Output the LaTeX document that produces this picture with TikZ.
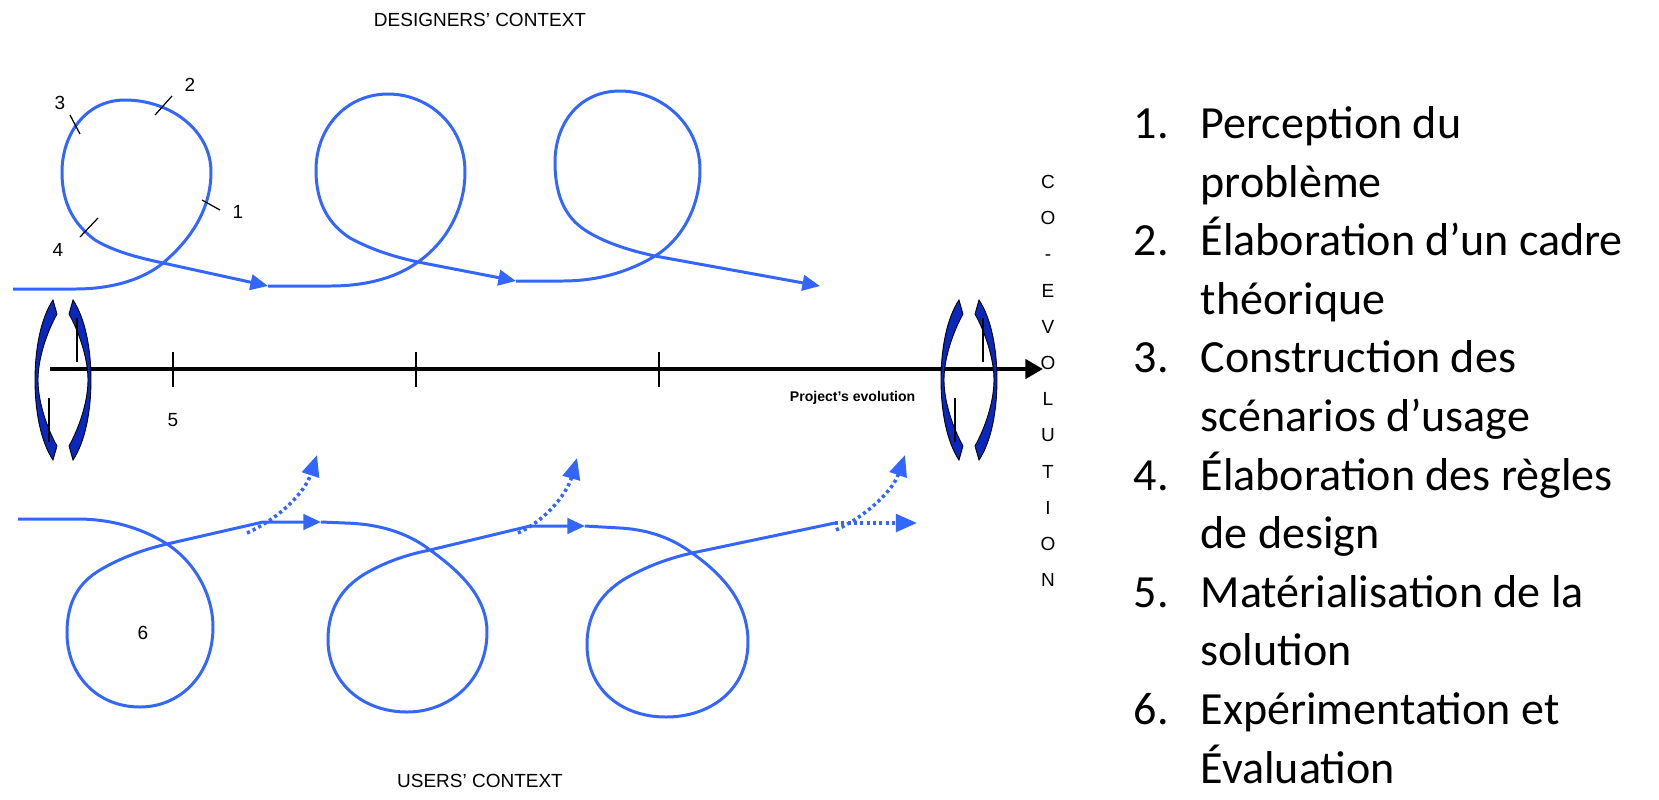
\documentclass[tikz,border=0pt]{standalone}
\usepackage{fontspec}
\setmainfont{Liberation Sans}
\newfontfamily\listfont{Carlito}
\usetikzlibrary{arrows.meta}
\definecolor{loopblue}{RGB}{51,102,255}
\definecolor{curlblue}{RGB}{10,40,190}
\tikzset{
  loopline/.style={draw=loopblue, line width=0.85pt},
  dotline/.style={draw=loopblue, line width=1pt, dash pattern=on 0.9pt off 0.9pt},
  looptip/.style={-{Triangle[length=5pt,width=4.4pt]}},
  dottip/.style={-{Triangle[length=6pt,width=5pt]}},
  axisline/.style={line width=1.2pt, -{Triangle[length=5pt,width=5.4pt]}},
  tickmark/.style={black, line width=0.35pt},
  curl/.style={fill=curlblue, draw=black, line width=0.25pt},
  lbl/.style={font=\fontsize{5.4}{6.5}\selectfont, inner sep=0pt},
  item/.style={font=\listfont\fontsize{13.1}{16}\selectfont, anchor=base west, inner sep=0pt},
}
\begin{document}
\begin{tikzpicture}[x=0.01cm,y=-0.01cm]
\fill[white] (0,0) rectangle (1659,799);
\useasboundingbox (0,0) rectangle (1659,799);
\node[lbl] (designers) at (480,20) {DESIGNERS’ CONTEXT};
\node[lbl] (users) at (480,781) {USERS’ CONTEXT};
% axis
\draw[axisline] (50,369) -- (1043,369);
\foreach \tx in {173,416,659} \draw[tickmark] (\tx,352) -- (\tx,387);
\node[lbl] (lab5) at (173,420) {5};
\node[lbl,font=\fontsize{4.0}{4.8}\selectfont\bfseries,anchor=east] (evol) at (916,398) {Project’s evolution};
\node[lbl,align=center,font=\fontsize{5.4}{10.3}\selectfont] (coevo) at (1048,381) {C\\O\\-\\E\\V\\O\\L\\U\\T\\I\\O\\N};
% curly arrows
\foreach \cx in {63,969}{
\begin{scope}[shift={(\cx,380)}]
\foreach \r in {0,180}{
\begin{scope}[rotate=\r]
\filldraw[curl] (-10,-80) .. controls (-22,-62) and (-28,-32) .. (-28,0) .. controls (-28,32) and (-22,62) .. (-10,80) -- (-6,66) .. controls (-16,48) and (-25,22) .. (-25,0) .. controls (-25,-22) and (-16,-48) .. (-6,-66) -- cycle;
\draw[tickmark] (-14,18) -- (-14,62);
\end{scope}}
\end{scope}}
% designers' loops
\coordinate (ja) at (268,286); \coordinate (jb) at (516,281); \coordinate (jc) at (820,286);
\draw[loopline,looptip] (13,289) -- (75,289) .. controls (115,289) and (145,278) .. (163,263) .. controls (195,236) and (211,205) .. (211,172) .. controls (211,130) and (170,100) .. (125,100) .. controls (85,100) and (62,135) .. (62,172) .. controls (62,205) and (75,225) .. (95,240) .. controls (115,252) and (140,258) .. (163,263) -- (ja);
\draw[loopline,looptip] (ja) -- (330,286) .. controls (372,286) and (400,275) .. (418,262) .. controls (448,241) and (465,207) .. (465,172) .. controls (465,125) and (428,94) .. (388,94) .. controls (346,94) and (316,128) .. (316,170) .. controls (316,205) and (330,225) .. (350,238) .. controls (372,250) and (395,257) .. (418,262) -- (jb);
\draw[loopline,looptip] (jb) -- (562,281) .. controls (605,281) and (635,268) .. (655,256) .. controls (683,239) and (700,205) .. (700,170) .. controls (700,123) and (660,91) .. (620,91) .. controls (578,91) and (555,125) .. (555,162) .. controls (555,200) and (568,220) .. (588,232) .. controls (608,244) and (632,251) .. (655,256) -- (jc);
\draw[tickmark] (70,115) -- (80,134); \node[lbl] (k3) at (60,103) {3};
\draw[tickmark] (155,115) -- (172,96); \node[lbl] (k2) at (190,85) {2};
\draw[tickmark] (202,200) -- (220,210); \node[lbl] (k1) at (238,212) {1};
\draw[tickmark] (80,237) -- (98,218); \node[lbl] (k4) at (58,250) {4};
% users' loops
\coordinate (ua) at (321,522); \coordinate (ub) at (585,526); \coordinate (uc) at (835,523); \coordinate (ud) at (917,523);
\draw[loopline,looptip] (18,519) -- (77,519) .. controls (115,519) and (145,530) .. (167,544) .. controls (195,562) and (213,595) .. (213,627) .. controls (213,675) and (180,707) .. (140,707) .. controls (97,707) and (67,675) .. (67,633) .. controls (67,600) and (80,582) .. (100,570) .. controls (120,558) and (145,549) .. (167,544) -- (263,522) -- (ua);
\draw[loopline,looptip] (ua) -- (345,523) .. controls (385,524) and (412,536) .. (430,550) .. controls (465,575) and (487,600) .. (487,632) .. controls (487,680) and (450,712) .. (407,712) .. controls (362,712) and (328,682) .. (328,640) .. controls (328,605) and (345,585) .. (368,572) .. controls (390,560) and (410,554) .. (430,550) -- (530,526) -- (ub);
\draw[loopline] (ub) -- (620,528) .. controls (655,530) and (677,542) .. (692,553) .. controls (726,577) and (748,605) .. (748,642) .. controls (748,690) and (710,717) .. (666,717) .. controls (620,717) and (587,688) .. (587,645) .. controls (587,610) and (605,590) .. (628,577) .. controls (650,565) and (670,558) .. (692,553) -- (uc);
\draw[dotline,dottip] (uc) -- (ud);
\draw[dotline,dottip] (247,533) .. controls (280,518) and (305,492) .. (317,455);
\draw[dotline,dottip] (518,533) .. controls (550,518) and (568,490) .. (577,458);
\draw[dotline,dottip] (836,530) .. controls (868,515) and (893,490) .. (905,455);
\node[lbl] (k6) at (143,633) {6};
% list
\node[item] (i1) at (1133,138) {1.}; \node[item] (t1a) at (1200,138) {Perception du};
\node[item] (t1b) at (1200,197) {problème};
\node[item] (i2) at (1133,255) {2.}; \node[item] (t2a) at (1200,255) {Élaboration d’un cadre};
\node[item] (t2b) at (1200,314) {théorique};
\node[item] (i3) at (1133,372) {3.}; \node[item] (t3a) at (1200,372) {Construction des};
\node[item] (t3b) at (1200,431) {scénarios d’usage};
\node[item] (i4) at (1133,490) {4.}; \node[item] (t4a) at (1200,490) {Élaboration des règles};
\node[item] (t4b) at (1200,548) {de design};
\node[item] (i5) at (1133,607) {5.}; \node[item] (t5a) at (1200,607) {Matérialisation de la};
\node[item] (t5b) at (1200,665) {solution};
\node[item] (i6) at (1133,724) {6.}; \node[item] (t6a) at (1200,724) {Expérimentation et};
\node[item] (t6b) at (1200,783) {Évaluation};
\end{tikzpicture}
\end{document}
